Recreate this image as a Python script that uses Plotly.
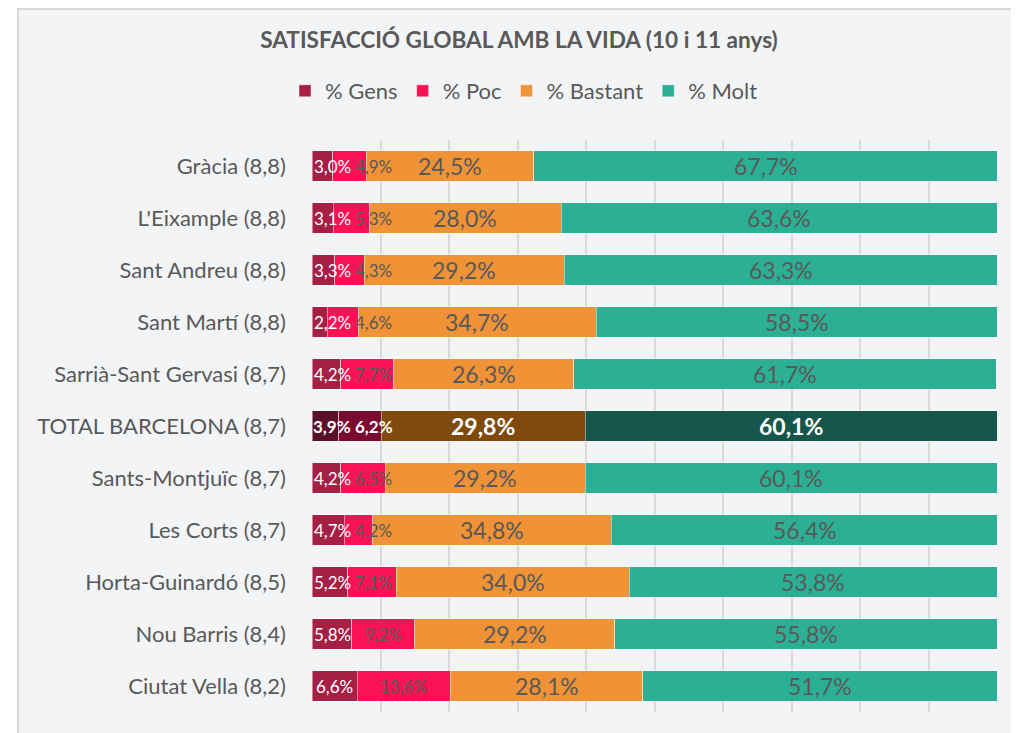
import plotly.graph_objects as go

# dades: % de satisfacció per districte (de dalt a baix)
districtes = [
    "Gràcia (8,8)", "L'Eixample (8,8)", "Sant Andreu (8,8)", "Sant Martí (8,8)",
    "Sarrià-Sant Gervasi (8,7)", "TOTAL BARCELONA (8,7)", "Sants-Montjuïc (8,7)",
    "Les Corts (8,7)", "Horta-Guinardó (8,5)", "Nou Barris (8,4)", "Ciutat Vella (8,2)",
]
gens = [3.0, 3.1, 3.3, 2.2, 4.2, 3.9, 4.2, 4.7, 5.2, 5.8, 6.6]
poc = [4.9, 5.3, 4.3, 4.6, 7.7, 6.2, 6.5, 4.2, 7.1, 9.2, 13.6]
bastant = [24.5, 28.0, 29.2, 34.7, 26.3, 29.8, 29.2, 34.8, 34.0, 29.2, 28.1]
molt = [67.7, 63.6, 63.3, 58.5, 61.7, 60.1, 60.1, 56.4, 53.8, 55.8, 51.7]
series_noms = ["% Gens", "% Poc", "% Bastant", "% Molt"]

TOTAL = "TOTAL BARCELONA (8,7)"
colors = ["#a61f45", "#fa1254", "#f09236", "#2bb096"]
colors_total = ["#5a1028", "#7b0a30", "#7f4a0c", "#17564a"]
GRIS = "#595959"
FONT = "Lato"

# el body de la pàgina té 8px de marge
W, H, OFF = 1019 - 8, 733 - 8, 8
L, R, T, B = 312 - OFF, 22, 140 - OFF, 21
PW, PH = W - L - R, H - T - B

fig = go.Figure()
valors = [gens, poc, bastant, molt]
for i, (nom, vals) in enumerate(zip(series_noms, valors)):
    cols = [colors_total[i] if d == TOTAL else colors[i] for d in districtes]
    fig.add_trace(go.Bar(
        y=districtes, x=vals, name=nom, orientation="h",
        marker=dict(color=cols, line=dict(color="rgba(255,255,255,0.45)", width=1)),
        hoverinfo="x+y",
    ))

# amplada aproximada del text (em) per evitar solapaments
AMPLE = {",": 0.25, "%": 0.8}


def ample_text(t, size):
    return sum(AMPLE.get(c, 0.58) for c in t) * size


# etiquetes: centrades al segment, desplaçades si es solapen (com fa Excel)
PX_PER_UNIT = PW / 100
annotations = []
for j, d in enumerate(districtes):
    es_total = d == TOTAL
    start = 0
    prev_right = 0.2
    for i, vals in enumerate(valors):
        v = vals[j]
        text = f"{v:.1f}%".replace(".", ",")
        gran = i >= 2
        size = 23 if gran else 17
        half = ample_text(text, size) / PX_PER_UNIT / 2
        x = start + v / 2
        if not gran:
            x = max(x, prev_right + half + (0.6 if i else 0))
            prev_right = x + half
        color = "white" if (es_total or i == 0) else GRIS
        annotations.append(dict(
            x=x, y=d, text=f"<b>{text}</b>" if es_total else text,
            showarrow=False, xanchor="center", yanchor="middle",
            font=dict(family=FONT, size=size, color=color),
        ))
        start += v

fig.update_layout(
    width=W, height=H,
    margin=dict(l=L, r=R, t=T, b=B),
    barmode="stack", bargap=0.42,
    paper_bgcolor="white", plot_bgcolor="#f3f4f6",
    font=dict(family=FONT, color=GRIS),
    title=dict(
        text="<b>SATISFACCIÓ GLOBAL AMB LA VIDA (10 i 11 anys)</b>",
        x=(519 - OFF) / W, xref="container", xanchor="center",
        y=1 - (40 - OFF) / H, yref="container", yanchor="middle",
        font=dict(family=FONT, size=22.6, color=GRIS),
    ),
    legend=dict(
        orientation="h", x=(524 - OFF) / W, xref="container", xanchor="center",
        y=1 - (91 - OFF) / H, yref="container", yanchor="middle",
        font=dict(family=FONT, size=22, color=GRIS),
        bgcolor="rgba(0,0,0,0)", traceorder="normal",
    ),
    xaxis=dict(
        range=[0, 100], dtick=10, showgrid=True, gridcolor="#d9d9d9", gridwidth=2,
        showticklabels=False, zeroline=False, fixedrange=True,
    ),
    yaxis=dict(
        autorange="reversed", showgrid=False, ticks="", ticklabelstandoff=25,
        tickfont=dict(family=FONT, size=22, color=GRIS), fixedrange=True,
    ),
    annotations=annotations,
    shapes=[dict(
        type="rect", xref="paper", yref="paper", layer="below",
        x0=(18 - 312) / PW, x1=(1040 - 312) / PW,
        y0=(712 - 745) / PH, y1=(712 - 9) / PH,
        fillcolor="#f3f4f6", line=dict(color="#d9d9d9", width=2),
    )],
    showlegend=True,
)

fig.write_html("out.html")
